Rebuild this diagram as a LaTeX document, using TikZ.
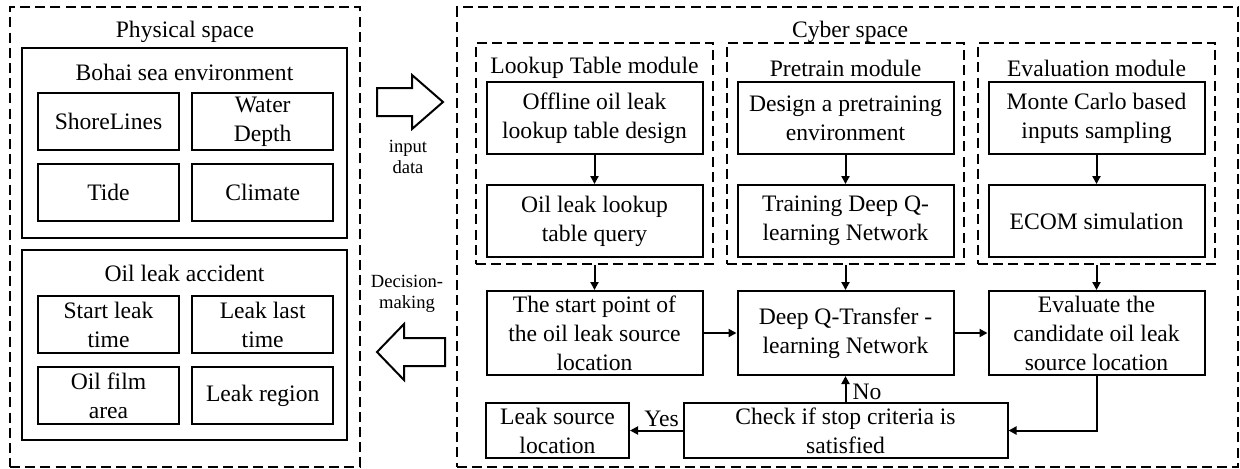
\documentclass[tikz,border=0pt]{standalone}
\usepackage{fontspec}
\setmainfont{Liberation Serif}
\usetikzlibrary{positioning,arrows.meta}

\begin{document}
\begin{tikzpicture}[x=0.5pt, y=-0.5pt,
  every node/.style={font=\fontsize{11.8}{14.5}\selectfont},
  dashbox/.style={draw, line width=1pt, dash pattern=on 5pt off 2.6pt, inner sep=0pt},
  group/.style={draw, line width=1pt, inner sep=0pt, minimum width=162.5pt, minimum height=95pt},
  cell/.style={draw, line width=1.1pt, align=center, inner sep=0pt, minimum width=70.5pt, minimum height=28.5pt},
  flow/.style={draw, line width=1pt, align=center, inner sep=0pt, minimum width=108pt, minimum height=#1},
  flow/.default=36pt,
  small/.style={font=\fontsize{9.3}{10.5}\selectfont, align=center},
  >={Triangle[length=4pt,width=4pt]}]
\useasboundingbox (0,0) rectangle (1240,468);
% physical side
\node[dashbox, minimum width=175pt, minimum height=230pt] (phys) at (185,237) {};
\node (physt) at (185,32) {Physical space};
\node[group] (sea) at (184.5,142.5) {};
\node (seat) at (184.5,72) {Bohai sea environment};
\node[cell] (shore) at (108.5,121.5) {ShoreLines};
\node[cell, right=5.5pt of shore] (depth) {Water\\Depth};
\node[cell, below=6pt of shore] (tide) {Tide};
\node[cell, right=5.5pt of tide] (climate) {Climate};
\node[group] (acc) at (184.5,345) {};
\node (acct) at (184.5,273) {Oil leak accident};
\node[cell] (start) at (108.5,324.5) {Start leak\\time};
\node[cell, right=5.5pt of start] (last) {Leak last\\time};
\node[cell, below=6pt of start] (film) {Oil film\\area};
\node[cell, right=5.5pt of film] (region) {Leak region};
% block arrows in between
\draw[line width=1pt] (377,88) -- (412,88) -- (412,75) -- (443,102) -- (412,129) -- (412,116) -- (377,116) -- cycle;
\node[small] (input) at (408,157) {input\\data};
\draw[line width=1pt] (445,338) -- (404,338) -- (404,324) -- (377,352) -- (404,380) -- (404,366) -- (445,366) -- cycle;
\node[small] (decide) at (407,294) {Decision-\\making};
% cyber side
\node[dashbox, minimum width=390.5pt, minimum height=230pt] (cyber) at (847.5,237) {};
\node (cybert) at (850,32) {Cyber space};
\foreach \n/\x/\t in {lut/594.5/Lookup Table module, pre/845.5/Pretrain module, eva/1096.5/Evaluation module} {
  \node[dashbox, minimum width=118.5pt, minimum height=110.5pt] (\n) at (\x,153.5) {};
  \node (\n t) at (\x,68) {\t};
}
\node[flow] (offline) at (594.5,118) {Offline oil leak\\lookup table design};
\node[flow, below=14.5pt of offline] (query) {Oil leak lookup\\table query};
\node[flow] (design) at (845.5,118) {Design a pretraining\\environment};
\node[flow, below=14.5pt of design] (train) {Training Deep Q-\\learning Network};
\node[flow] (monte) at (1096.5,118) {Monte Carlo based\\inputs sampling};
\node[flow, below=14.5pt of monte] (ecom) {ECOM simulation};
\node[flow=42pt] (startpt) at (594.5,333) {The start point of\\the oil leak source\\location};
\node[flow=42pt] (dqtn) at (845.5,333) {Deep Q-Transfer -\\learning Network};
\node[flow=42pt] (evalc) at (1096.5,333) {Evaluate the\\candidate oil leak\\source location};
\node[flow=27.5pt, minimum width=71.5pt] (leak) at (557.5,430.5) {Leak source\\location};
\node[flow=27.5pt, minimum width=162pt] (check) at (845.5,430.5) {Check if stop criteria is\\satisfied};
\foreach \a/\b in {offline/query, design/train, monte/ecom, lut/startpt, pre/dqtn, eva/evalc, startpt/dqtn, dqtn/evalc}
  \draw[->, line width=1pt] (\a) -- (\b);
\draw[->, line width=1pt] (evalc) |- (check);
\draw[->, line width=1pt] (check) -- node[pos=0.4, above, inner sep=1.5pt] {Yes} (leak);
\draw[->, line width=1pt] (check) -- node[pos=0.4, right, inner sep=1pt, xshift=2pt] {No} (dqtn);
\end{tikzpicture}
\end{document}
